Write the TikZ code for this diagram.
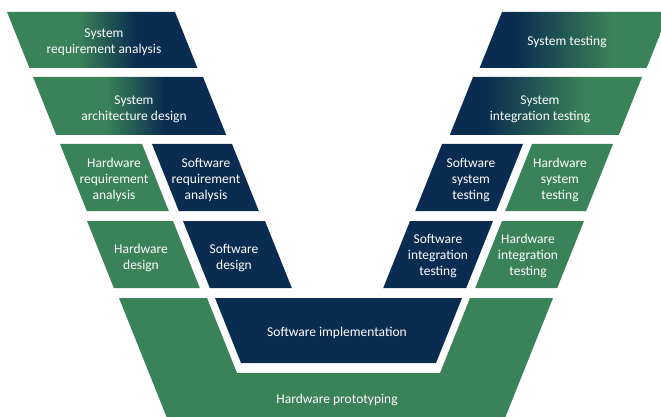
\documentclass[tikz,border=0pt]{standalone}
\usepackage{fontspec}
\setmainfont{Carlito}
\usepackage{tikz}

\definecolor{vgreen}{RGB}{58,130,88}
\definecolor{vnavy}{RGB}{10,44,80}
\pgfdeclarehorizontalshading{gntonv}{100bp}{color(0bp)=(vgreen); color(44bp)=(vgreen); color(59bp)=(vnavy); color(100bp)=(vnavy)}
\pgfdeclarehorizontalshading{nvtogn}{100bp}{color(0bp)=(vnavy); color(34bp)=(vnavy); color(60bp)=(vgreen); color(100bp)=(vgreen)}

\begin{document}
\begin{tikzpicture}[x=1pt,y=-1pt,
			stage/.style={text=white,align=center,yshift=-2pt,font=\fontsize{13.5}{16}\selectfont},
			hw/.style={fill=vgreen}, sw/.style={fill=vnavy},
			leftgrad/.style={shading=gntonv}, rightgrad/.style={shading=nvtogn}]

			\useasboundingbox (0,0) rectangle (661,417);

			% left branch
			\shade[leftgrad] (7,12) -- (175,12) -- (197.4,68) -- (29.4,68) -- cycle;
			\shade[leftgrad] (33,77) -- (203,77) -- (226.2,135) -- (56.2,135) -- cycle;
			\fill[hw] (60,144) -- (142,144) -- (168.8,211) -- (86.8,211) -- cycle;
			\fill[sw] (152,144) -- (232,144) -- (258.8,211) -- (178.8,211) -- cycle;
			\fill[hw] (87,221) -- (173,221) -- (199.8,288) -- (113.8,288) -- cycle;
			\fill[sw] (183,221) -- (265,221) -- (291.8,288) -- (209.8,288) -- cycle;

			% bottom
			\fill[hw] (119,298) -- (207,298) -- (237,373) -- (440,373) -- (470,298) -- (553,298) -- (504.2,420) -- (167.8,420) -- cycle;
			\fill[sw] (215,298) -- (462,298) -- (436,363) -- (241,363) -- cycle;

			% right branch
			\shade[rightgrad] (502,12) -- (669,12) -- (646.6,68) -- (479.6,68) -- cycle;
			\shade[rightgrad] (473,77) -- (642,77) -- (618.8,135) -- (449.8,135) -- cycle;
			\fill[sw] (442,144) -- (523,144) -- (496.2,211) -- (415.2,211) -- cycle;
			\fill[hw] (532,144) -- (613,144) -- (586.2,211) -- (505.2,211) -- cycle;
			\fill[sw] (410,221) -- (493,221) -- (466.2,288) -- (383.2,288) -- cycle;
			\fill[hw] (502,221) -- (584,221) -- (557.2,288) -- (475.2,288) -- cycle;

			\node[stage] (sysreq) at (104,40) {System\\requirement analysis};
			\node[stage] (sysarch) at (134,107) {System\\architecture design};
			\node[stage] (hwreq) at (114,178) {Hardware\\requirement\\analysis};
			\node[stage] (swreq) at (206,178) {Software\\requirement\\analysis};
			\node[stage] (hwdes) at (141,256) {Hardware\\design};
			\node[stage] (swdes) at (234,256) {Software\\design};
			\node[stage] (swimpl) at (337,331) {Software implementation};
			\node[stage] (hwproto) at (337,398) {Hardware prototyping};
			\node[stage] (systest) at (567,40) {System testing};
			\node[stage] (sysint) at (540,107) {System\\integration testing};
			\node[stage] (swsys) at (471,178) {Software\\system\\testing};
			\node[stage] (hwsys) at (560,178) {Hardware\\system\\testing};
			\node[stage] (swint) at (438,254) {Software\\integration\\testing};
			\node[stage] (hwint) at (528,254) {Hardware\\integration\\testing};

		\end{tikzpicture}
\end{document}
